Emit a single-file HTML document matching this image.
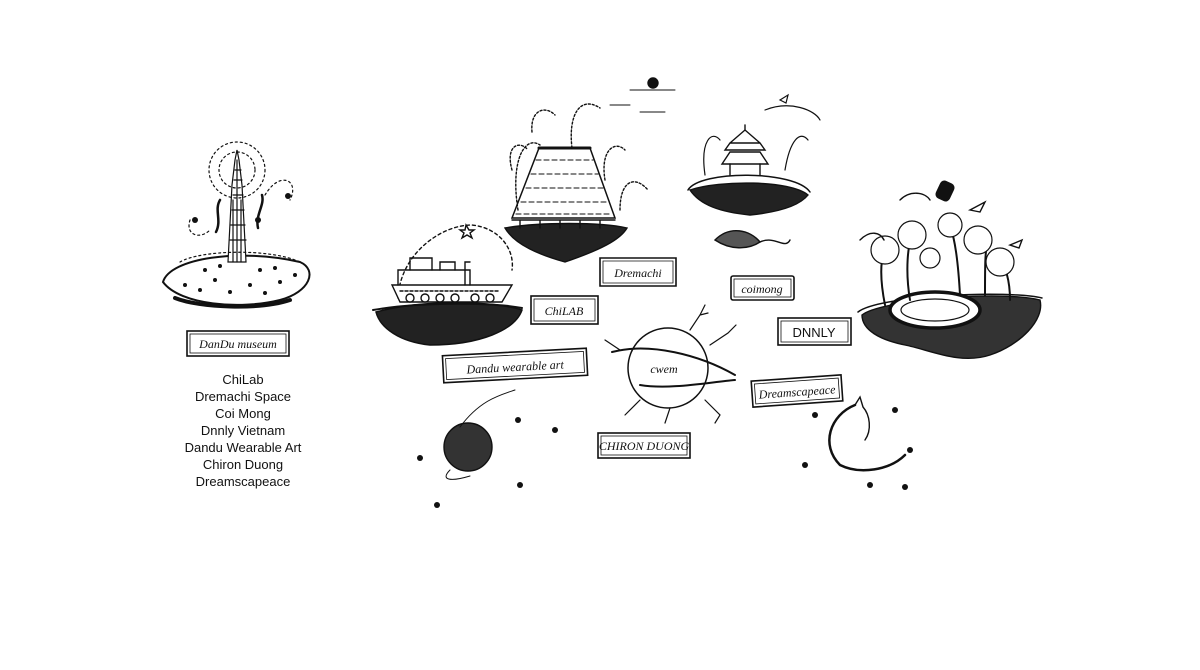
<!DOCTYPE html>
<html><head><meta charset="utf-8"><style>
html,body{margin:0;padding:0;background:#fff;}
.w{position:relative;width:1200px;height:670px;overflow:hidden;background:#fff;}
.list{position:absolute;left:143px;top:371px;width:200px;text-align:center;font-family:"Liberation Sans",sans-serif;font-size:13px;line-height:17px;color:#111;}
svg{position:absolute;left:0;top:0;}
.hw{font-family:"Liberation Serif",serif;font-style:italic;font-size:12px;fill:#111;}
</style></head><body><div class="w">
<svg width="1200" height="670" viewBox="0 0 1200 670" fill="none" stroke="#111" stroke-width="1.4" stroke-linecap="round">
<!-- Dandu museum -->
<path d="M163,282 C170,258 240,248 300,262 C318,270 310,292 280,300 C240,310 180,305 163,282Z" stroke-width="2"/>
<path d="M175,298 C200,308 260,310 290,300" stroke-width="4"/>
<g stroke-width="1.2">
<path d="M228,262 L232,185 L235,160 L237,150 L239,160 L242,185 L246,262Z" fill="#fff"/>
<path d="M230,240h16M231,225h14M232,210h12M233,195h10M234,180h8M235,170h6" />
<path d="M233,262V200M237,262V160M241,262V200"/>
<circle cx="237" cy="170" r="18" stroke-dasharray="2 3"/>
<circle cx="237" cy="170" r="28" stroke-dasharray="2 3"/>
<path d="M180,262 C200,250 270,248 300,262" stroke-dasharray="2 3"/>
<path d="M265,195 C280,170 300,180 290,200" stroke-dasharray="2 3"/>
<path d="M190,220 C185,235 200,240 210,230" stroke-dasharray="2 3"/>
</g>
<g fill="#111" stroke="none">
<circle cx="185" cy="285" r="2"/><circle cx="200" cy="290" r="2"/><circle cx="215" cy="280" r="2"/><circle cx="230" cy="292" r="2"/><circle cx="250" cy="285" r="2"/><circle cx="265" cy="293" r="2"/><circle cx="280" cy="282" r="2"/><circle cx="295" cy="275" r="2"/><circle cx="205" cy="270" r="2"/><circle cx="260" cy="270" r="2"/><circle cx="275" cy="268" r="2"/><circle cx="220" cy="266" r="2"/>
<circle cx="195" cy="220" r="3"/><circle cx="258" cy="220" r="3"/><circle cx="288" cy="196" r="3"/>
</g>
<path d="M216,232 C222,220 214,210 220,200M258,228 C255,215 265,205 262,195" stroke-width="2.5"/>
<rect x="187" y="331" width="102" height="25" stroke-width="1.6"/>
<rect x="190" y="334" width="96" height="19" stroke-width="0.8"/>
<text x="238" y="348" text-anchor="middle" class="hw" stroke="none">DanDu museum</text>

<!-- Ship island -->
<path d="M376,312 C420,300 490,300 522,310 C515,330 480,345 430,345 C400,342 380,328 376,312Z" fill="#222" stroke-width="1.5"/>
<path d="M373,310 C420,302 490,302 522,308" stroke-width="2"/>
<path d="M398,298 C400,255 440,225 472,225 C500,228 515,250 512,270" stroke-dasharray="3 3"/>
<path d="M392,285 L512,285 L502,302 L400,302Z" fill="#fff"/>
<path d="M398,285 V270 H470 V285"/>
<path d="M410,270 V258 H432 V270M440,270 V262 H455 V270M465,285 V262 H470"/>
<g fill="#fff"><circle cx="410" cy="298" r="4"/><circle cx="425" cy="298" r="4"/><circle cx="440" cy="298" r="4"/><circle cx="455" cy="298" r="4"/><circle cx="475" cy="298" r="4"/><circle cx="490" cy="298" r="4"/></g>
<path d="M400,291h100" stroke-dasharray="3 2"/>
<path d="M466,225 l3,5 5,0 -4,3 2,5 -5,-3 -5,3 2,-5 -4,-3 5,0z"/>
<rect x="531" y="296" width="67" height="28" stroke-width="1.6"/>
<rect x="534" y="299" width="61" height="22" stroke-width="0.8"/>
<text x="564" y="315" text-anchor="middle" class="hw" stroke="none">ChiLAB</text>

<!-- Dremachi building -->
<path d="M505,228 C540,222 600,222 627,228 C620,240 600,250 565,262 C540,255 515,245 505,228Z" fill="#222"/>
<path d="M539,148 L590,148 L615,218 L512,218Z" fill="#fff" stroke-width="1.5"/>
<g stroke-dasharray="5 3" stroke-width="1.1"><path d="M536,160h57M531,174h67M526,188h77M521,202h87M516,214h96"/></g>
<path d="M539,148h51" stroke-width="3"/>
<path d="M512,220h103M520,220v8M540,220v8M560,220v8M580,220v8M600,220v8"/>
<path d="M518,210 C510,160 525,135 540,145M572,148 C568,115 580,95 600,108M605,180 C600,150 615,140 625,150M620,210 C620,180 635,175 648,190M532,132 C530,110 545,105 555,115M512,170 C505,145 520,140 528,150" stroke-dasharray="2 2"/>
<path d="M600,258 h76 v28 h-76z" stroke-width="1.6"/><path d="M603,261h70v22h-70z" stroke-width="0.8"/>
<text x="638" y="277" text-anchor="middle" class="hw" stroke="none">Dremachi</text>
<circle cx="653" cy="83" r="5" fill="#111"/>
<path d="M630,90h45M610,105h20M640,112h25" stroke-width="1"/>

<!-- Pagoda island -->
<path d="M690,190 C720,180 790,180 808,195 C800,205 780,212 750,215 C720,212 700,205 690,190Z" fill="#222"/>
<path d="M688,190 C700,170 795,170 810,192" stroke-width="1.5"/>
<path d="M725,150 L765,150 L760,143 L730,143Z M730,143 L745,130 L760,143" fill="#fff"/>
<path d="M722,164 H768 L760,152 H730Z" fill="#fff"/>
<path d="M730,164 V175 M760,164 V175 M745,125V130"/>
<path d="M705,175 C700,140 712,130 720,140M785,170 C790,140 800,130 808,140M765,110 C790,100 815,110 820,120M780,100 l8,-5 -2,8z" stroke-width="1.2"/>
<path d="M715,240 C730,225 750,230 760,242 C748,250 730,250 715,240Z" fill="#555"/>
<path d="M760,242 C775,235 785,250 790,240"/>
<rect x="731" y="276" width="63" height="24" rx="2" stroke-width="1.6"/>
<rect x="734" y="279" width="57" height="18" stroke-width="0.8"/>
<text x="762" y="293" text-anchor="middle" class="hw" stroke="none">coimong</text>
<rect x="778" y="318" width="73" height="27" stroke-width="1.6"/>
<rect x="781" y="321" width="67" height="21" stroke-width="0.8"/>
<text x="814" y="337" text-anchor="middle" style="font-family:'Liberation Sans',sans-serif;font-size:13px" fill="#111" stroke="none">DNNLY</text>

<!-- Palm island -->
<path d="M862,315 C880,300 1000,290 1040,300 C1045,320 1020,345 990,355 C960,365 930,350 905,345 C880,340 862,330 862,315Z" fill="#333"/>
<path d="M858,312 C880,295 1010,290 1042,298" stroke-width="1.5"/>
<ellipse cx="935" cy="310" rx="45" ry="18" fill="#fff" stroke-width="3.5"/>
<ellipse cx="935" cy="310" rx="34" ry="11" stroke-width="1.2"/>
<g stroke-width="2"><path d="M885,305 C880,280 880,260 885,250M910,300 C905,270 908,245 912,235M960,295 C958,260 955,240 950,225M985,295 C985,265 985,250 988,240M1010,300 C1010,280 1005,265 1000,260"/></g>
<g fill="#fff" stroke-width="1.2"><circle cx="885" cy="250" r="14"/><circle cx="912" cy="235" r="14"/><circle cx="950" cy="225" r="12"/><circle cx="978" cy="240" r="14"/><circle cx="1000" cy="262" r="14"/><circle cx="930" cy="258" r="10"/></g>
<rect x="938" y="182" width="14" height="18" rx="4" transform="rotate(25 945 191)" fill="#111"/>
<path d="M900,200 C910,190 925,192 930,200M970,210 l15,-8 -5,10zM1010,245 l12,-5 -3,8zM860,240 C870,230 880,232 884,240"/>
<!-- Chiron -->
<circle cx="668" cy="368" r="40" stroke-width="1.5"/>
<path d="M612,352 C650,342 700,355 735,375M640,385 C670,390 710,382 735,380" stroke-width="2"/>
<path d="M690,330 l10,-15 5,-10M700,315 l8,-2M710,345 l18,-12 8,-8M705,400 l15,15 -5,8M670,408 l-5,15M640,400 l-15,15M620,350 l-15,-10" stroke-width="1.2"/>
<text x="664" y="373" text-anchor="middle" class="hw" font-size="9" stroke="none">cwem</text>
<rect x="598" y="433" width="92" height="25" stroke-width="1.6"/>
<rect x="601" y="436" width="86" height="19" stroke-width="0.8"/>
<text x="644" y="450" text-anchor="middle" class="hw" font-size="10" stroke="none">CHIRON DUONG</text>
<!-- Dandu wearable art -->
<g transform="rotate(-3 515 365)"><rect x="443" y="352" width="144" height="27" stroke-width="1.6"/><rect x="446" y="355" width="138" height="21" stroke-width="0.8"/>
<text x="515" y="371" text-anchor="middle" class="hw" stroke="none">Dandu wearable art</text></g>
<circle cx="468" cy="447" r="24" fill="#333"/>
<path d="M460,427 C480,400 500,395 515,390M450,470 C440,480 450,482 470,476" stroke-width="1"/>
<g fill="#111" stroke="none"><circle cx="420" cy="458" r="3"/><circle cx="518" cy="420" r="3"/><circle cx="555" cy="430" r="3"/><circle cx="520" cy="485" r="3"/><circle cx="437" cy="505" r="3"/></g>
<!-- Dreamscapeace -->
<g transform="rotate(-4 797 391)"><rect x="752" y="378" width="90" height="26" stroke-width="1.6"/><rect x="755" y="381" width="84" height="20" stroke-width="0.8"/>
<text x="797" y="396" text-anchor="middle" class="hw" font-size="10" stroke="none">Dreamscapeace</text></g>
<path d="M855,405 C830,415 820,445 840,465 C860,475 890,470 905,455" stroke-width="2.5"/>
<path d="M855,405 l5,-8 3,10 C870,415 872,430 865,440" stroke-width="1.4"/>
<g fill="#111" stroke="none"><circle cx="815" cy="415" r="3"/><circle cx="895" cy="410" r="3"/><circle cx="805" cy="465" r="3"/><circle cx="910" cy="450" r="3"/><circle cx="870" cy="485" r="3"/><circle cx="905" cy="487" r="3"/></g>
</svg>
<div class="list">ChiLab<br>Dremachi Space<br>Coi Mong<br>Dnnly Vietnam<br>Dandu Wearable Art<br>Chiron Duong<br>Dreamscapeace</div>
</div></body></html>
